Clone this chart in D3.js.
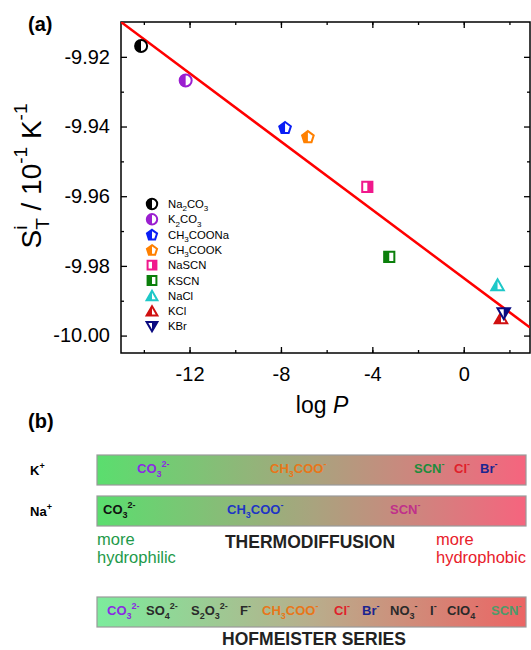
<!DOCTYPE html>
<html>
<head>
<meta charset="utf-8">
<script src="https://cdn.jsdelivr.net/npm/d3@7"></script>
<style>
  body { margin: 0; background: #fff; }
  svg { font-family: "Liberation Sans", Arial, sans-serif; }
</style>
</head>
<body>
<script>
// data (log P vs S_T)
var salts  = ["Na_{2}CO_{3}", "K_{2}CO_{3}", "CH_{3}COONa", "CH_{3}COOK", "NaSCN", "KSCN", "NaCl", "KCl", "KBr"];
var logP   = [-14.12, -12.17, -7.82, -6.82, -4.22, -3.26, 1.48, 1.63, 1.75];
var sT     = [-9.9169, -9.9268, -9.9403, -9.9429, -9.9573, -9.9774, -9.9855, -9.9950, -9.9936];
// linear fit
var fitIntercept = -9.9835, fitSlope = -0.0049;

var xTicks = [-12, -8, -4, 0];
var yTicks = [-9.92, -9.94, -9.96, -9.98, -10.00];

// part (b) ion series
var kIons   = ["CO_{3}^{2-}", "CH_{3}COO^{-}", "SCN^{-}", "Cl^{-}", "Br^{-}"];
var naIons  = ["CO_{3}^{2-}", "CH_{3}COO^{-}", "SCN^{-}"];
var hofIons = ["CO_{3}^{2-}", "SO_{4}^{2-}", "S_{2}O_{3}^{2-}", "F^{-}", "CH_{3}COO^{-}", "Cl^{-}", "Br^{-}", "NO_{3}^{-}", "I^{-}", "ClO_{4}^{-}", "SCN^{-}"];

// styles
var markerStyle = [
  {c: "#000000", s: "circle",   h: "L"},
  {c: "#9b1fd0", s: "circle",   h: "L"},
  {c: "#0a1ef5", s: "pentagon", h: "L"},
  {c: "#ff8000", s: "pentagon", h: "L"},
  {c: "#f0188c", s: "square",   h: "R"},
  {c: "#0b7f0b", s: "square",   h: "L"},
  {c: "#1ec8c8", s: "triangle", h: "L"},
  {c: "#d01010", s: "triangle", h: "L"},
  {c: "#0a0a80", s: "tridown",  h: "R"}
];
var kColors   = ["#8a2be2", "#e8761a", "#1c8c3c", "#e0202a", "#1a2590"];
var kPos      = [137, 270, 414, 454, 480];
var naColors  = ["#111111", "#1e35c4", "#c0308a"];
var naPos     = [103, 227, 390];
var hofColors = ["#8a2be2", "#2a2a2a", "#2a2a2a", "#2a2a2a", "#e8761a", "#e0202a", "#1a2590", "#2a2a2a", "#2a2a2a", "#2a2a2a", "#4e9a6a"];
var hofPos    = [107, 146, 191, 240, 262, 334, 362, 390, 430, 447, 491];

var W = 531, H = 650;
var margin = {top: 22, right: 1, bottom: 297, left: 121};
var w = W - margin.left - margin.right,
    h = H - margin.top - margin.bottom;

var svg = d3.select("body").append("svg")
  .attr("width", W).attr("height", H);

var defs = svg.append("defs");
defs.append("clipPath").attr("id", "halfL")
  .append("rect").attr("x", -20).attr("y", -20).attr("width", 20).attr("height", 40);
defs.append("clipPath").attr("id", "halfR")
  .append("rect").attr("x", 0).attr("y", -20).attr("width", 20).attr("height", 40);
defs.append("clipPath").attr("id", "plotClip")
  .append("rect").attr("width", w).attr("height", h);

// write chemistry text like CO_{3}^{2-} with tspans
function chem(textSel, str, small) {
  var parts = str.match(/(_\{[^}]*\}|\^\{[^}]*\}|[^_^]+)/g);
  var shift = 0;
  parts.forEach(function(p) {
    var t = textSel.append("tspan"), target = 0;
    if (p[0] === "_") { target = 0.3; t.style("font-size", small).text(p.slice(2, -1)); }
    else if (p[0] === "^") { target = -0.5; t.style("font-size", small).text(p.slice(2, -1)); }
    else { t.text(p); }
    var em = parseFloat(textSel.style("font-size"));
    t.attr("dy", ((target - shift) * em) + "px");
    shift = target;
  });
}

function shapePath(s, r) {
  if (s === "circle") return d3.symbol(d3.symbolCircle, Math.PI * r * r)();
  if (s === "square") return d3.symbol(d3.symbolSquare, 4 * r * r * 0.72)();
  var n = s === "pentagon" ? 5 : 3, pts = [];
  var rot = s === "tridown" ? Math.PI / 2 : -Math.PI / 2;
  var rr = s === "pentagon" ? r * 1.02 : r * 1.2;
  var dy = s === "pentagon" ? r * 0.1 : (s === "tridown" ? -r * 0.25 : r * 0.25);
  for (var i = 0; i < n; i++) {
    var a = rot + i * 2 * Math.PI / n;
    pts.push([rr * Math.cos(a), rr * Math.sin(a) + dy]);
  }
  return "M" + pts.join("L") + "Z";
}

function marker(g, st, r) {
  var d = shapePath(st.s, r);
  g.append("path").attr("d", d).attr("fill", "#fff")
    .attr("stroke", st.c).attr("stroke-width", 2).attr("stroke-linejoin", "miter");
  g.append("path").attr("d", d).attr("fill", st.c)
    .attr("clip-path", st.h === "L" ? "url(#halfL)" : "url(#halfR)");
}

// ---------- (a) ----------
var g = svg.append("g").attr("transform", "translate(" + margin.left + "," + margin.top + ")");

var x = d3.scaleLinear().domain([-15, 2.9]).range([0, w]);
var y = d3.scaleLinear().domain([-10.005, -9.910]).range([h, 0]);

var fmtY = function(d) { return d.toFixed(2); };

function minorAxis(axis, scale, vals) {
  return axis(scale).tickValues(vals).tickSize(-3).tickFormat("");
}

g.append("g").attr("transform", "translate(0," + h + ")")
  .call(minorAxis(d3.axisBottom, x, d3.range(-14, 3, 2)));
g.append("g").call(minorAxis(d3.axisTop, x, d3.range(-14, 3, 2)));
g.append("g").call(minorAxis(d3.axisLeft, y, [-9.93, -9.95, -9.97, -9.99]));
g.append("g").attr("transform", "translate(" + w + ",0)")
  .call(minorAxis(d3.axisRight, y, [-9.93, -9.95, -9.97, -9.99]));

var xAxis = g.append("g").attr("transform", "translate(0," + h + ")")
  .call(d3.axisBottom(x).tickValues(xTicks).tickSize(-6).tickPadding(14).tickFormat(d3.format("d")));
var yAxis = g.append("g")
  .call(d3.axisLeft(y).tickValues(yTicks).tickSize(-6).tickPadding(11).tickFormat(fmtY));
g.append("g").call(d3.axisTop(x).tickValues(xTicks).tickSize(-6).tickFormat(""));
g.append("g").attr("transform", "translate(" + w + ",0)")
  .call(d3.axisRight(y).tickValues(yTicks).tickSize(-6).tickFormat(""));

g.selectAll(".domain").remove();
g.selectAll(".tick line").attr("stroke", "#000").attr("stroke-width", 1.3);
g.selectAll(".tick text").style("font-size", "20px").attr("fill", "#000")
  .text(function() { return d3.select(this).text().replace("\u2212", "-"); });

g.append("rect").attr("width", w).attr("height", h)
  .attr("fill", "none").attr("stroke", "#000").attr("stroke-width", 1.5);

// fit line
g.append("line").attr("clip-path", "url(#plotClip)")
  .attr("x1", x(-15)).attr("y1", y(fitIntercept + fitSlope * -15))
  .attr("x2", x(2.9)).attr("y2", y(fitIntercept + fitSlope * 2.9))
  .attr("stroke", "#ff0000").attr("stroke-width", 2.5);

// points
salts.forEach(function(s, i) {
  var pg = g.append("g").attr("transform", "translate(" + x(logP[i]) + "," + y(sT[i]) + ")");
  marker(pg, markerStyle[i], 6);
});

// legend
var leg = g.append("g").attr("transform", "translate(" + (152 - margin.left) + "," + (204 - margin.top) + ")");
salts.forEach(function(s, i) {
  var lg = leg.append("g").attr("transform", "translate(0," + (i * 15.3) + ")");
  marker(lg, markerStyle[i], 5.2);
  var t = lg.append("text").attr("x", 16).attr("y", 4).style("font-size", "11.3px").attr("fill", "#000");
  chem(t, s, "8px");
});

// axis titles
svg.append("text").attr("x", 322).attr("y", 413).attr("text-anchor", "middle")
  .style("font-size", "23px").html('log <tspan font-style="italic">P</tspan>');

// y title: S with stacked i / T
var yl = svg.append("text").attr("transform", "translate(41,176) rotate(-90)")
  .attr("text-anchor", "middle").style("font-size", "28px");
yl.append("tspan").text("S");
var supI = yl.append("tspan").attr("dy", -14).style("font-size", "19px").text("i");
var iw = supI.node().getComputedTextLength();
yl.append("tspan").attr("dy", 22).attr("dx", -iw).style("font-size", "19px").text("T");
yl.append("tspan").attr("dy", -8).text(" / 10");
yl.append("tspan").attr("dy", -14).style("font-size", "19px").text("-1");
yl.append("tspan").attr("dy", 14).text(" K");
yl.append("tspan").attr("dy", -14).style("font-size", "19px").text("-1");

svg.append("text").attr("x", 28).attr("y", 31).style("font-size", "20px")
  .style("font-weight", "bold").text("(a)");

// ---------- (b) ----------
svg.append("text").attr("x", 28).attr("y", 428).style("font-size", "20px")
  .style("font-weight", "bold").text("(b)");

function grad(id, c0, c1, c2) {
  var lg = defs.append("linearGradient").attr("id", id);
  lg.append("stop").attr("offset", "0%").attr("stop-color", c0);
  lg.append("stop").attr("offset", "50%").attr("stop-color", c1);
  lg.append("stop").attr("offset", "100%").attr("stop-color", c2);
}
grad("gK", "#5ade6e", "#a8a47e", "#f6647e");
grad("gH", "#7cec9c", "#b8ae8c", "#ec6464");

var barX0 = 97, barX1 = 526;
function bar(yTop, fill, labels, pos, cols) {
  svg.append("rect").attr("x", barX0).attr("y", yTop).attr("width", barX1 - barX0).attr("height", 30)
    .attr("fill", "url(#" + fill + ")").attr("stroke", "#9a9a9a").attr("stroke-width", 1.2);
  labels.forEach(function(l, i) {
    var t = svg.append("text").attr("x", pos[i]).attr("y", yTop + 18)
      .style("font-size", "13px").style("font-weight", "bold").attr("fill", cols[i]);
    chem(t, l, "9px");
  });
}
bar(455, "gK", kIons, kPos, kColors);
bar(496, "gK", naIons, naPos, naColors);
bar(597, "gH", hofIons, hofPos, hofColors);

var kl = svg.append("text").attr("x", 30).attr("y", 475).style("font-size", "13px").style("font-weight", "bold");
chem(kl, "K^{+}", "9px");
var nl = svg.append("text").attr("x", 30).attr("y", 516).style("font-size", "13px").style("font-weight", "bold");
chem(nl, "Na^{+}", "9px");

svg.append("text").attr("x", 97).attr("y", 545).style("font-size", "16.5px").attr("fill", "#1e9a4a").text("more");
svg.append("text").attr("x", 97).attr("y", 563).style("font-size", "16.5px").attr("fill", "#1e9a4a").text("hydrophilic");
svg.append("text").attr("x", 436).attr("y", 545).style("font-size", "16.5px").attr("fill", "#e8202a").text("more");
svg.append("text").attr("x", 436).attr("y", 563).style("font-size", "16.5px").attr("fill", "#e8202a").text("hydrophobic");
svg.append("text").attr("x", 310).attr("y", 548).attr("text-anchor", "middle")
  .style("font-size", "17.5px").style("font-weight", "bold").attr("fill", "#222").text("THERMODIFFUSION");
svg.append("text").attr("x", 314).attr("y", 645).attr("text-anchor", "middle")
  .style("font-size", "17.5px").style("font-weight", "bold").attr("fill", "#222").text("HOFMEISTER SERIES");
</script>
</body>
</html>
